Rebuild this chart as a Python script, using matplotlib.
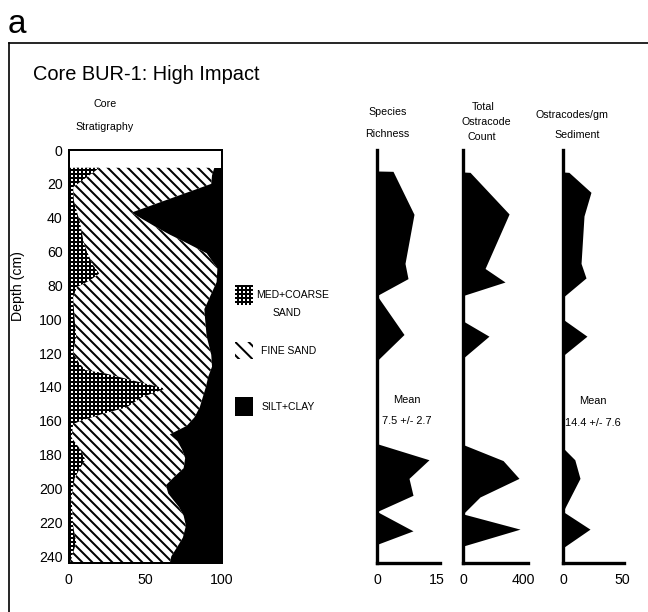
import matplotlib.pyplot as plt
from matplotlib.patches import Rectangle

plt.rcParams['font.family'] = ['Liberation Sans', 'DejaVu Sans']
plt.rcParams['hatch.linewidth'] = 1.2

# core extent (cm)
core_top = 10.5
core_bottom = 244

# med+coarse sand, cumulative % from the left
coarse_depth = [10.5, 12, 22, 30, 43, 55, 60, 68, 73, 77, 81, 87, 100, 110, 120, 126, 130,
                132, 141, 146, 152, 156, 160, 162, 170, 176, 183, 188, 194, 205, 222, 232, 238, 244]
coarse_pct = [20, 18, 3, 3.5, 7.5, 10, 12, 16, 20, 14, 5.5, 3, 4, 5, 3, 7, 11,
              24, 63, 48, 38, 22, 8, 3, 2, 7, 11, 7.5, 4, 2, 3, 5, 3, 1]

# med+coarse + fine sand, cumulative %; the rest is silt+clay
sand_depth = [10.5, 15, 20, 37, 45, 50, 54, 61, 70, 78, 85, 94, 100, 110, 121, 128, 134, 140,
              146, 152, 158, 163, 168, 172, 177, 182, 188, 193, 198, 203, 211, 216, 222, 229,
              235, 240, 244]
sand_pct = [95, 93.5, 93, 41, 56, 66, 75, 90, 97, 96.5, 93, 88.5, 89, 90, 93, 93.5, 91, 89.5,
            87.5, 85.5, 82, 77, 66, 71, 74, 76, 75, 69, 63.5, 65, 72, 75, 76.5, 74.5,
            70.5, 67, 66]

# species richness
rich_depth = [12.4, 12.6, 38, 67, 76, 86, 109, 124.5, 173.5, 183, 194, 204, 213.6, 225, 233, 244]
rich_vals = [0, 4, 9.25, 7, 7.75, 0, 6.75, 0, 0, 13, 8, 9, 0, 9, 0, 0]

# total ostracode count
count_depth = [13, 13.2, 37.8, 70, 78, 86, 101, 110, 123, 174, 183.5, 194, 205, 215, 224, 234, 244]
count_vals = [0, 47, 307, 147, 280, 0, 0, 173, 0, 0, 267, 373, 113, 0, 380, 0, 0]

# ostracodes per gram sediment
sed_depth = [13, 13.2, 25, 39, 67, 75.6, 87, 100, 110, 121.5, 176, 183, 194, 213.6, 224, 235, 244]
sed_vals = [0, 5, 23.7, 17.8, 15.3, 19.5, 0, 0, 20.3, 0, 0, 10, 14.4, 0, 22.9, 0, 0]

W, H = 648, 612
fig = plt.figure(figsize=(W / 120, H / 120), dpi=120)


def px_axes(x0, y0, x1, y1):
    return fig.add_axes([x0 / W, 1 - y1 / H, (x1 - x0) / W, (y1 - y0) / H])


# --- core stratigraphy ---
ax = px_axes(68.5, 150, 222, 563)
ax.fill_betweenx([core_top, core_bottom], 0, 100, color='black', lw=0)
ax.fill_betweenx(sand_depth, 0, sand_pct, facecolor='white', edgecolor='black',
                 hatch='\\\\\\\\', lw=0)
ax.fill_betweenx(coarse_depth, 0, coarse_pct, facecolor='white', edgecolor='black',
                 hatch='+++++', lw=0)
ax.set_xlim(0, 100)
ax.set_ylim(244, 0)
ax.set_xticks([0, 50, 100])
ax.set_yticks(range(0, 241, 20))
ax.tick_params(length=0, labelsize=8.5)
ax.tick_params(axis='y', pad=3.5)
ax.tick_params(axis='x', pad=6)
for s in ax.spines.values():
    s.set_linewidth(1.2)
ax.set_ylabel('Depth (cm)', fontsize=8.5)
ax.yaxis.set_label_coords(-0.285, 0.67)

# --- profile panels ---
panels = [
    (377, 440, rich_depth, rich_vals, 15.75, 15),
    (463, 528, count_depth, count_vals, 433, 400),
    (563, 624, sed_depth, sed_vals, 51.7, 50),
]
for x0, x1, depth, vals, xmax, tick in panels:
    pa = px_axes(x0, 150, x1, 563)
    pa.fill_betweenx(depth, 0, vals, color='black', lw=0)
    pa.set_xlim(0, xmax)
    pa.set_ylim(244, 0)
    pa.set_xticks([0, tick])
    pa.set_yticks([])
    pa.tick_params(length=0, labelsize=8.5, pad=6)
    pa.spines['top'].set_visible(False)
    pa.spines['right'].set_visible(False)
    pa.spines['left'].set_linewidth(2)
    pa.spines['bottom'].set_linewidth(2)

# --- overlay: frame, titles, legend ---
ov = fig.add_axes([0, 0, 1, 1])
ov.set_xlim(0, W)
ov.set_ylim(H, 0)
ov.axis('off')
ov.plot([9, W], [43, 43], color='black', lw=1)
ov.plot([9, 9], [43, H], color='black', lw=1)

ov.text(8, 33, 'a', fontsize=20, ha='left', va='baseline')
ov.text(33, 80, 'Core BUR-1: High Impact', fontsize=12, ha='left', va='baseline')

hs = 6.4
ov.text(105, 104, 'Core', fontsize=hs, ha='center', va='center')
ov.text(105, 127, 'Stratigraphy', fontsize=hs, ha='center', va='center')
ov.text(388, 112, 'Species', fontsize=hs, ha='center', va='center')
ov.text(387, 134, 'Richness', fontsize=hs, ha='center', va='center')
ov.text(483, 107, 'Total', fontsize=hs, ha='center', va='center')
ov.text(486, 122, 'Ostracode', fontsize=hs, ha='center', va='center')
ov.text(482, 137, 'Count', fontsize=hs, ha='center', va='center')
ov.text(572, 115, 'Ostracodes/gm', fontsize=hs, ha='center', va='center')
ov.text(577, 135, 'Sediment', fontsize=hs, ha='center', va='center')

ov.text(407, 400, 'Mean', fontsize=6.6, ha='center', va='center')
ov.text(407, 421, '7.5 +/- 2.7', fontsize=6.6, ha='center', va='center')
ov.text(593, 401, 'Mean', fontsize=6.6, ha='center', va='center')
ov.text(593, 423, '14.4 +/- 7.6', fontsize=6.6, ha='center', va='center')

# legend
ov.add_patch(Rectangle((235, 285), 18, 20, facecolor='white', edgecolor='black',
                       hatch='+++++', lw=0))
ov.add_patch(Rectangle((235, 342), 18, 17, facecolor='white', edgecolor='black',
                       hatch='\\\\\\', lw=0))
ov.add_patch(Rectangle((235, 397), 18, 19, facecolor='black', lw=0))
ls = 6.2
ov.text(256, 295, 'MED+COARSE', fontsize=ls, ha='left', va='center')
ov.text(287, 313, 'SAND', fontsize=ls, ha='center', va='center')
ov.text(261, 351, 'FINE SAND', fontsize=ls, ha='left', va='center')
ov.text(262, 407, 'SILT+CLAY', fontsize=ls, ha='left', va='center')

fig.savefig('out.png', dpi=120)
